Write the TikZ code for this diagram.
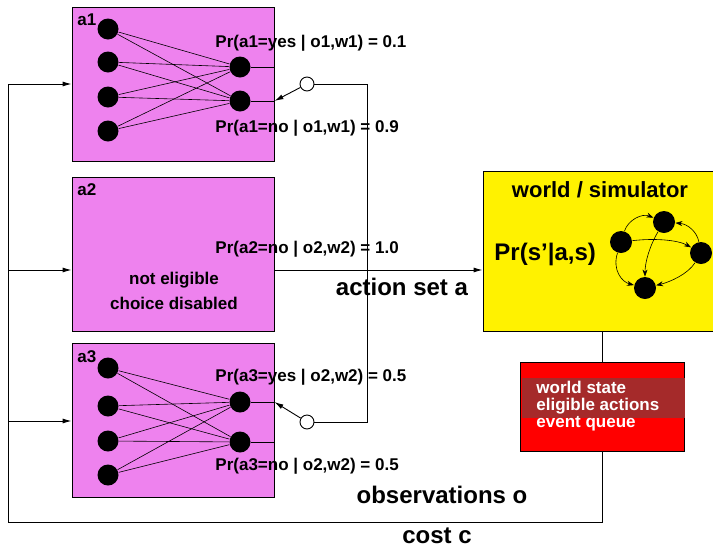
\documentclass[tikz,border=0pt]{standalone}
\usepackage{fontspec}
\setmainfont{Liberation Sans}
\usetikzlibrary{arrows.meta}
\definecolor{agentpink}{RGB}{238,130,238}
\definecolor{bandred}{RGB}{165,42,42}
\tikzset{
  agent/.style={draw, fill=agentpink, minimum width=202pt, minimum height=154pt, inner sep=0pt},
  unit/.style={circle, fill=black, minimum size=21pt, inner sep=0pt},
  state/.style={circle, fill=black, minimum size=22pt, inner sep=0pt},
  gate/.style={circle, draw, fill=white, minimum size=14pt, inner sep=0pt},
  small/.style={font=\bfseries\fontsize{17}{19}\selectfont, inner sep=0pt},
  big/.style={font=\bfseries\fontsize{24}{28}\selectfont, inner sep=0pt}
}

\begin{document}
\begin{tikzpicture}[x=1pt, y=-1pt, line width=0.9pt, >={Latex[length=9pt,width=5pt]}]
\useasboundingbox (0,0) rectangle (713,547);

% agents
\node[agent] (a1) at (173,84) {};
\node[agent] (a2) at (173,254) {};
\node[agent] (a3) at (173,420.5) {};
\node[small, anchor=base west] (a1t) at (77,25) {a1};
\node[small, anchor=base west] (a2t) at (77,195) {a2};
\node[small, anchor=base west] (a3t) at (77,362) {a3};

% network of agent a1
\foreach \i/\y in {1/29,2/62,3/97,4/131}
  \node[unit] (a1l\i) at (108,\y) {};
\node[unit] (a1r1) at (240,67) {};
\node[unit] (a1r2) at (240,101) {};
\foreach \i in {1,...,4}
  \foreach \j in {1,2}
    \draw[line width=0.6pt] (a1l\i) -- (a1r\j);
\draw (a1r1) -- (a1r1 -| a1.east);
\draw (a1r2) -- (a1r2 -| a1.east);

% network of agent a3
\foreach \i/\y in {1/368,2/406,3/441,4/475}
  \node[unit] (a3l\i) at (108,\y) {};
\node[unit] (a3r1) at (240,402) {};
\node[unit] (a3r2) at (240,442) {};
\foreach \i in {1,...,4}
  \foreach \j in {1,2}
    \draw[line width=0.6pt] (a3l\i) -- (a3r\j);
\draw (a3r1) -- (a3r1 -| a3.east);
\draw (a3r2) -- (a3r2 -| a3.east);

% probabilities
\node[small, anchor=base west] (p1y) at (215,47) {Pr(a1=yes | o1,w1) = 0.1};
\node[small, anchor=base west] (p1n) at (215,132) {Pr(a1=no | o1,w1) = 0.9};
\node[small, anchor=base west] (p2n) at (215,253) {Pr(a2=no | o2,w2) = 1.0};
\node[small, anchor=base west] (p3y) at (215,381) {Pr(a3=yes | o2,w2) = 0.5};
\node[small, anchor=base west] (p3n) at (215,470) {Pr(a3=no | o2,w2) = 0.5};
\node[small, anchor=base] (ne1) at (174,284) {not eligible};
\node[small, anchor=base] (ne2) at (174,309) {choice disabled};

% choice gates
\node[gate] (g1) at (307,84) {};
\node[gate] (g3) at (307,422) {};
\coordinate (k1) at (367,84);
\coordinate (k3) at (367,422);
\draw (g1) -- (k1) -- (k3) -- (g3);
\draw[->] (g1) -- (a1r2 -| a1.east);
\draw[->] (g3) -- (a3r1 -| a3.east);

% world
\node[draw, fill=yellow, minimum width=238pt, minimum height=160pt, inner sep=0pt] (world) at (602,251) {};
\node[small, font=\bfseries\fontsize{22}{26}\selectfont, anchor=base] (wt) at (600,197) {world / simulator};
\node[big, anchor=base west] (wp) at (494,260) {Pr(s'|a,s)};
\node[state] (s1) at (621,242) {};
\node[state] (s2) at (664,222) {};
\node[state] (s3) at (701,253) {};
\node[state] (s4) at (645,288) {};
\begin{scope}[line width=0.6pt, >={Stealth[length=7pt,width=5pt]}]
\draw[->] (s1) .. controls (628,220) and (642,213) .. (s2);
\draw[->] (s1) .. controls (655,238) and (678,240) .. (s3);
\draw[->] (s1) .. controls (612,270) and (622,282) .. (s4);
\draw[->] (s2) .. controls (650,245) and (645,262) .. (s4);
\draw[->] (s3) .. controls (697,232) and (688,224) .. (s2);
\draw[->] (s3) .. controls (688,274) and (670,282) .. (s4);
\end{scope}

% state store
\node[draw, fill=red, minimum width=164pt, minimum height=89pt, inner sep=0pt] (store) at (602,406.5) {};
\fill[bandred] (521.5,378) rectangle (684.5,418);
\node[small, text=white, anchor=base west] (st1) at (536,393) {world state};
\node[small, text=white, anchor=base west] (st2) at (536,410) {eligible actions};
\node[small, text=white, anchor=base west] (st3) at (536,427) {event queue};
\draw (world.south) -- (store.north);

% action and feedback
\coordinate (c0) at (8,522);
\coordinate (ctop) at (8,84);
\coordinate (f2) at (8,270);
\coordinate (f3) at (8,421);
\draw (store.south) -- (store.south |- c0) -- (c0) -- (ctop);
\draw[->] (ctop) -- (a1.west);
\draw[->] (f2) -- (f2 -| a2.west);
\draw[->] (f3) -- (f3 -| a3.west);
\draw[->] (f2 -| a2.east) -- (f2 -| world.west);
\node[big, anchor=base] (act) at (402,295) {action set a};
\node[big, anchor=base] (obs) at (442,503) {observations o};
\node[big, anchor=base] (cost) at (437,543) {cost c};
\end{tikzpicture}
\end{document}
